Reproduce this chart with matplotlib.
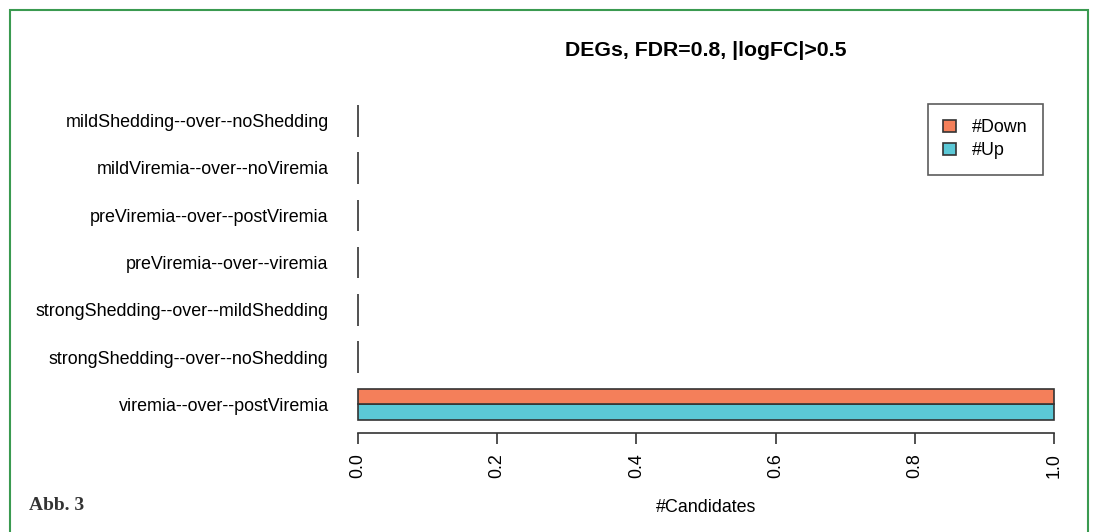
import numpy as np
import matplotlib
matplotlib.use("Agg")
import matplotlib.pyplot as plt
from matplotlib.patches import Patch, Rectangle

plt.rcParams['font.family'] = ['Liberation Sans', 'DejaVu Sans']

# comparisons, listed bottom to top as R's horizontal barplot draws them
categories = [
    'viremia--over--postViremia',
    'strongShedding--over--noShedding',
    'strongShedding--over--mildShedding',
    'preViremia--over--viremia',
    'preViremia--over--postViremia',
    'mildViremia--over--noViremia',
    'mildShedding--over--noShedding',
]
n_down = [1, 0, 0, 0, 0, 0, 0]
n_up = [1, 0, 0, 0, 0, 0, 0]
x_ticks = [0.0, 0.2, 0.4, 0.6, 0.8, 1.0]

col_down = '#F47F5A'
col_up = '#5BC8D6'
edge = '#333333'
fs = 12.9

W, H = 1094, 532
fig = plt.figure(figsize=(W / 100, H / 100), dpi=100)

# plot region in pixels (R default margins on this device)
left, right, top, bottom = 330, 1082, 92.4, 432.6
ax = fig.add_axes([left / W, 1 - bottom / H, (right - left) / W, (bottom - top) / H])

# beside=TRUE layout: each group = 2 bars of width 1, 1 unit of space before it
idx = np.arange(len(categories))
y_up = 1.5 + 3 * idx
y_down = 2.5 + 3 * idx
ax.barh(y_up, n_up, height=1.0, color=col_up, edgecolor=edge, linewidth=1.2)
ax.barh(y_down, n_down, height=1.0, color=col_down, edgecolor=edge, linewidth=1.2)

ax.set_xlim(-0.04, 1.04)
ax.set_ylim(0.2, 21.8)

ax.set_yticks(2 + 3 * idx)
ax.set_yticklabels(categories, fontsize=fs)
ax.tick_params(axis='y', length=0, pad=1)

ax.set_xticks(x_ticks)
ax.set_xticklabels([f'{v:.1f}' for v in x_ticks], rotation=90, fontsize=fs)
ax.tick_params(axis='x', length=8, width=1.2, color=edge, pad=7)

for s in ['top', 'right', 'left']:
    ax.spines[s].set_visible(False)
ax.spines['bottom'].set_bounds(0, 1)
ax.spines['bottom'].set_linewidth(1.2)
ax.spines['bottom'].set_color(edge)

ax.set_title('DEGs, FDR=0.8, |logFC|>0.5', fontsize=15.3, fontweight='bold', pad=26)
fig.text(706 / W, 1 - 507 / H, '#Candidates', ha='center', va='center', fontsize=fs)

handles = [Patch(facecolor=col_down, edgecolor=edge, linewidth=1.2, label='#Down'),
           Patch(facecolor=col_up, edgecolor=edge, linewidth=1.2, label='#Up')]
leg = ax.legend(handles=handles, loc='upper right',
                bbox_to_anchor=(1043 / W, 1 - 104 / H), bbox_transform=fig.transFigure,
                fontsize=fs, frameon=True, fancybox=False, borderaxespad=0,
                handlelength=0.7, handleheight=0.65, handletextpad=0.9,
                borderpad=0.85, labelspacing=0.35)
leg.get_frame().set_edgecolor(edge)
leg.get_frame().set_linewidth(1.2)

# green frame of the figure page
fig.patches.append(Rectangle((10 / W, -0.1), (1088 - 10) / W, 1.1 - 10 / H,
                             transform=fig.transFigure, fill=False,
                             edgecolor='#3A9A50', linewidth=1.5))
fig.text(29 / W, 1 - 506 / H, 'Abb. 3', ha='left', va='center',
         fontsize=14, family='Liberation Serif', fontweight='bold', color='#333333')

fig.savefig('out.png', dpi=100)
